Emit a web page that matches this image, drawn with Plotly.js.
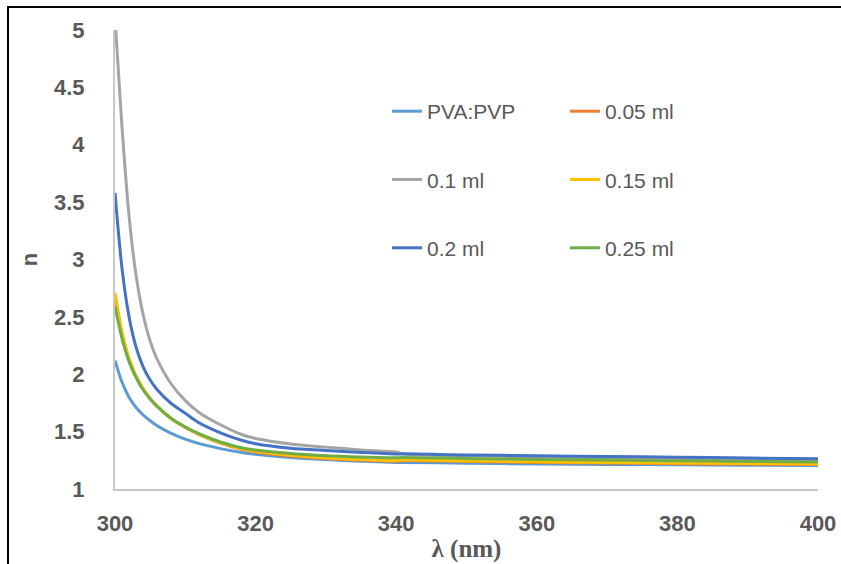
<!DOCTYPE html>
<html>
<head>
<meta charset="utf-8">
<script src="https://cdn.plot.ly/plotly-3.0.1.min.js"></script>
<style>
html,body{margin:0;padding:0;background:#fff;}
#wrap{position:relative;width:841px;height:564px;overflow:hidden;}
#chart{width:841px;height:564px;}
#frame{position:absolute;left:7px;top:6px;width:900px;height:700px;border-left:2px solid #000;border-top:2px solid #000;pointer-events:none;}
</style>
</head>
<body>
<div id="wrap"><div id="chart"></div><div id="frame"></div></div>
<script>
// wavelength (nm)
const lambda = [300,301,302,303,304,305,306,308,310,312,315,318,320,325,330,335,340,341,350,360,370,380,390,400];

const seriesNames = ["PVA:PVP","0.05 ml","0.1 ml","0.15 ml","0.2 ml","0.25 ml"];

const nPVA = [2.12,1.93,1.80,1.71,1.645,1.595,1.552,1.485,1.435,1.395,1.352,1.318,1.302,1.274,1.256,1.242,1.232,1.232,1.225,1.218,1.214,1.211,1.208,1.205];
const n005 = [2.65,2.34,2.125,1.975,1.868,1.786,1.719,1.613,1.536,1.474,1.40,1.346,1.323,1.288,1.265,1.251,1.242,1.247,1.240,1.232,1.226,1.221,1.217,1.213];
const n010 = [5.10,4.15,3.38,2.86,2.52,2.29,2.13,1.915,1.77,1.665,1.56,1.475,1.44,1.392,1.365,1.34,1.322,1.305,1.29,1.28,1.273,1.267,1.261,1.256];
const n015 = [2.71,2.37,2.14,1.985,1.875,1.79,1.722,1.615,1.538,1.476,1.403,1.35,1.328,1.293,1.27,1.256,1.247,1.252,1.245,1.237,1.231,1.226,1.222,1.218];
const n020 = [3.58,2.92,2.50,2.235,2.065,1.95,1.865,1.745,1.66,1.575,1.49,1.425,1.395,1.355,1.335,1.318,1.305,1.307,1.297,1.29,1.283,1.277,1.27,1.264];
const n025 = [2.59,2.31,2.11,1.97,1.865,1.785,1.72,1.615,1.54,1.48,1.41,1.36,1.34,1.31,1.29,1.279,1.272,1.274,1.266,1.258,1.252,1.246,1.24,1.235];

const seriesValues = [nPVA,n005,n010,n015,n020,n025];
const colors = ["#5B9BD5","#ED7D31","#A5A5A5","#FFC000","#4472C4","#70AD47"];
const legendFor = ["legend","legend2","legend","legend2","legend","legend2"];

const traces = seriesValues.map((vals,i)=>({
  type:"scatter", mode:"lines",
  x: lambda, y: vals, name: seriesNames[i],
  legend: legendFor[i], legendgroup: "g"+i,
  line:{color:colors[i], width:3, shape:"spline", smoothing:0.8},
  hoverinfo:"x+y+name"
}));

const legendFont = {family:"Liberation Sans, Arial, sans-serif", size:21, color:"#595959"};
const layout = {
  width:841, height:564,
  margin:{l:115, r:23, t:30, b:75},
  paper_bgcolor:"#fff", plot_bgcolor:"#fff",
  showlegend:true,
  legend:{x:0.387, y:0.867, xanchor:"left", yanchor:"top", bgcolor:"rgba(0,0,0,0)",
          font:legendFont, tracegroupgap:38, traceorder:"grouped"},
  legend2:{x:0.640, y:0.867, xanchor:"left", yanchor:"top", bgcolor:"rgba(0,0,0,0)",
          font:legendFont, tracegroupgap:38, traceorder:"grouped"},
  xaxis:{range:[300,400], dtick:20, tick0:300, showgrid:false, zeroline:false,
         showline:true, linecolor:"#C8C8C8", linewidth:2, ticks:"",
         ticklabelstandoff:14,
         tickfont:{family:"Liberation Sans, Arial, sans-serif", size:22, color:"#595959", weight:"bold"},
         title:{text:"λ (nm)", standoff:4,
                font:{family:"Liberation Serif, Times New Roman, serif", size:25, color:"#595959", weight:"bold"}}},
  yaxis:{range:[1,5], dtick:0.5, tick0:1, showgrid:false, zeroline:false,
         showline:true, linecolor:"#C8C8C8", linewidth:2, ticks:"",
         ticklabelstandoff:24,
         tickfont:{family:"Liberation Sans, Arial, sans-serif", size:22, color:"#595959", weight:"bold"},
         title:{text:"n", standoff:10,
                font:{family:"Liberation Sans, Arial, sans-serif", size:22, color:"#595959", weight:"bold"}}}
};

Plotly.newPlot("chart", traces, layout, {displayModeBar:false, staticPlot:true});
</script>
</body>
</html>
